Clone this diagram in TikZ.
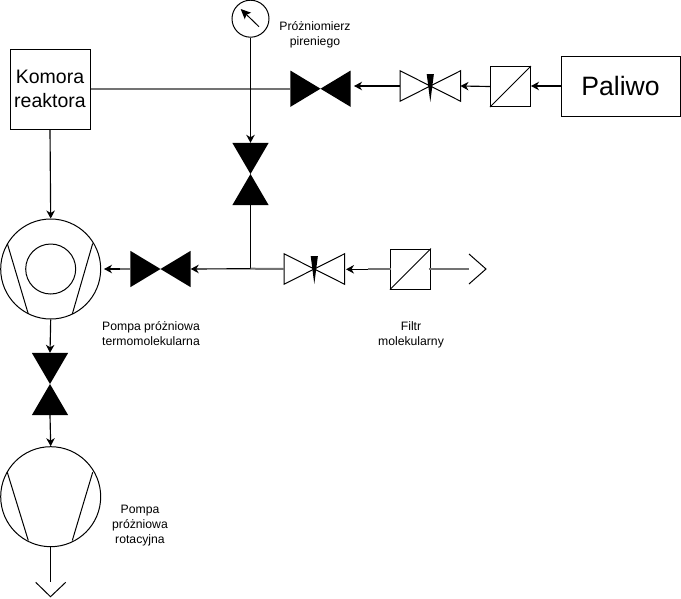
\documentclass[tikz,border=0pt]{standalone}
\usepackage{fontspec}
\setmainfont{Liberation Sans}
\usetikzlibrary{arrows.meta}
\tikzset{
  px/.style={line width=1pt},
  box/.style={draw=black,px,rectangle,inner sep=0pt,align=center,fill=white},
  hv/.style={rectangle,inner sep=0pt,minimum width=60pt,minimum height=#1},
  vv/.style={rectangle,inner sep=0pt,minimum width=36pt,minimum height=62pt},
  flt/.style={draw=black,px,rectangle,inner sep=0pt,minimum width=40pt,minimum height=40pt},
  round/.style={draw=black,px,circle,inner sep=0pt,minimum size=#1},
  lbl/.style={align=center,font=\fontsize{12.2}{15}\selectfont,inner sep=0pt,text=black},
  conn/.style={line width=1.15pt,-{Stealth[length=8pt,width=8.5pt,inset=2.5pt]}},
  pipe/.style={draw=black!55,line width=2pt},
}
\begin{document}
\begin{tikzpicture}[x=1pt,y=-1pt]
\useasboundingbox (0,0) rectangle (681,598);

% boxes
\node[box,minimum width=80pt,minimum height=80pt,font=\fontsize{19.5}{24}\selectfont] (kom) at (50,89) {Komora\\reaktora};
\node[box,minimum width=119pt,minimum height=60pt,font=\fontsize{26.6}{30}\selectfont] (pal) at (620.5,86) {Paliwo};

% gauge
\node[round=37pt] (gauge) at (250.5,18.7) {};
\coordinate (gs) at (259,26.7);
\coordinate (ge) at (240.7,9);
\draw[px,-{Stealth[length=10pt,width=9pt,inset=2pt]}] (gs) -- (ge);

% filled valves
\node[hv=36pt] (v1) at (320.5,88.7) {};
\fill (v1.north west) -- (v1.south east) -- (v1.north east) -- (v1.south west) -- cycle;
\node[hv=36pt] (v2) at (160.5,269) {};
\fill (v2.north west) -- (v2.south east) -- (v2.north east) -- (v2.south west) -- cycle;
\node[vv] (v3) at (250.5,174) {};
\fill (v3.north west) -- (v3.north east) -- (v3.south west) -- (v3.south east) -- cycle;
\node[vv] (v4) at (50,384) {};
\fill (v4.north west) -- (v4.north east) -- (v4.south west) -- (v4.south east) -- cycle;

% needle valves
\node[hv=30pt] (n1) at (430.3,86) {};
\draw[px,line join=miter] (n1.north west) -- (n1.south east) -- (n1.north east) -- (n1.south west) -- cycle;
\fill ([xshift=-3.6pt,yshift=12pt]n1.center) -- ([xshift=3.6pt,yshift=12pt]n1.center) -- ([yshift=-16pt]n1.center) -- cycle;
\node[hv=30pt] (n2) at (314.3,269) {};
\draw[px,line join=miter] (n2.north west) -- (n2.south east) -- (n2.north east) -- (n2.south west) -- cycle;
\fill ([xshift=-3.6pt,yshift=13pt]n2.center) -- ([xshift=3.6pt,yshift=13pt]n2.center) -- ([yshift=-15pt]n2.center) -- cycle;

% filters
\node[flt] (f1) at (510.5,86.5) {};
\draw[px] (f1.south west) -- (f1.north east);
\node[flt] (f2) at (410.5,269) {};
\draw[px] (f2.south west) -- (f2.north east);

% pumps
\node[round=100pt] (p1) at (50.7,269) {};
\node[round=50pt] (p1i) at (50.7,269) {};
\coordinate (p1a) at (7.3,243.5);
\coordinate (p1b) at (28.3,314);
\coordinate (p1c) at (92.7,243.5);
\coordinate (p1d) at (72.3,314);
\draw[px] (p1a) -- (p1b) (p1c) -- (p1d);
\node[round=100pt] (p2) at (50.7,496.7) {};
\coordinate (p2a) at (7.3,472.3);
\coordinate (p2b) at (28.3,540.5);
\coordinate (p2c) at (92.7,472.3);
\coordinate (p2d) at (72.3,540.5);
\draw[px] (p2a) -- (p2b) (p2c) -- (p2d);

% chevrons
\coordinate (c1a) at (469,254);
\coordinate (c1t) at (486,269);
\coordinate (c1b) at (469,284);
\draw[px] (c1a) -- (c1t) -- (c1b);
\coordinate (c2a) at (35.7,582.3);
\coordinate (c2t) at (50.5,596.7);
\coordinate (c2b) at (65.7,582.3);
\draw[px] (c2a) -- (c2t) -- (c2b);

% junctions
\coordinate (jt) at (250.5,88.7);
\coordinate (jb) at (250.5,268.7);
\coordinate (a1) at (354,86);
\coordinate (s1) at (367.7,269.3);
\coordinate (s2) at (367.7,268.7);
\coordinate (a2) at (346,269.3);
\coordinate (s3) at (120,269);
\coordinate (a3) at (104,269);
\coordinate (f2r) at (428.5,268.7);
\coordinate (f2l) at (390.5,268.7);
\coordinate (c1m) at (469,268.7);

% connectors
\draw[pipe] (kom.east |- jt) -- (v1.west);
\draw[px] (gauge.south) -- (jt);
\draw[conn,line width=1.7pt] (jt) -- (v3.north);
\draw[px] (v3.south) -- (jb);
\draw[conn] (jb) -- (v2.east);
\draw[conn] (n1.west) -- (a1);
\draw[conn] (f1.west) -- (n1.east);
\draw[conn] (pal.west |- n1) -- (f1.east |- n1);
\draw[conn] (kom.south) -- (p1.north);
\draw[conn] (p1.south) -- (v4.north);
\draw[conn] (v4.south) -- (p2.north);
\draw[px] (p2.south) -- (c2a -| p2.south);
\draw[pipe] (jb) -- (n2.west);
\draw[conn] (s1) -- (a2);
\draw[pipe] (s2) -- (f2l);
\draw[pipe] (f2r) -- (c1m);
\draw[pipe] (v2.west) -- (s3);
\draw[conn] (s3) -- (a3);

% labels
\node[lbl] (t1) at (315,34.5) {Próżniomierz\\pireniego};
\node[lbl] (t2) at (151,333.5) {Pompa próżniowa\\termomolekularna};
\node[lbl] (t3) at (411,334.5) {Filtr\\molekularny};
\node[lbl] (t4) at (140,526) {Pompa\\próżniowa\\rotacyjna};
\end{tikzpicture}
\end{document}
